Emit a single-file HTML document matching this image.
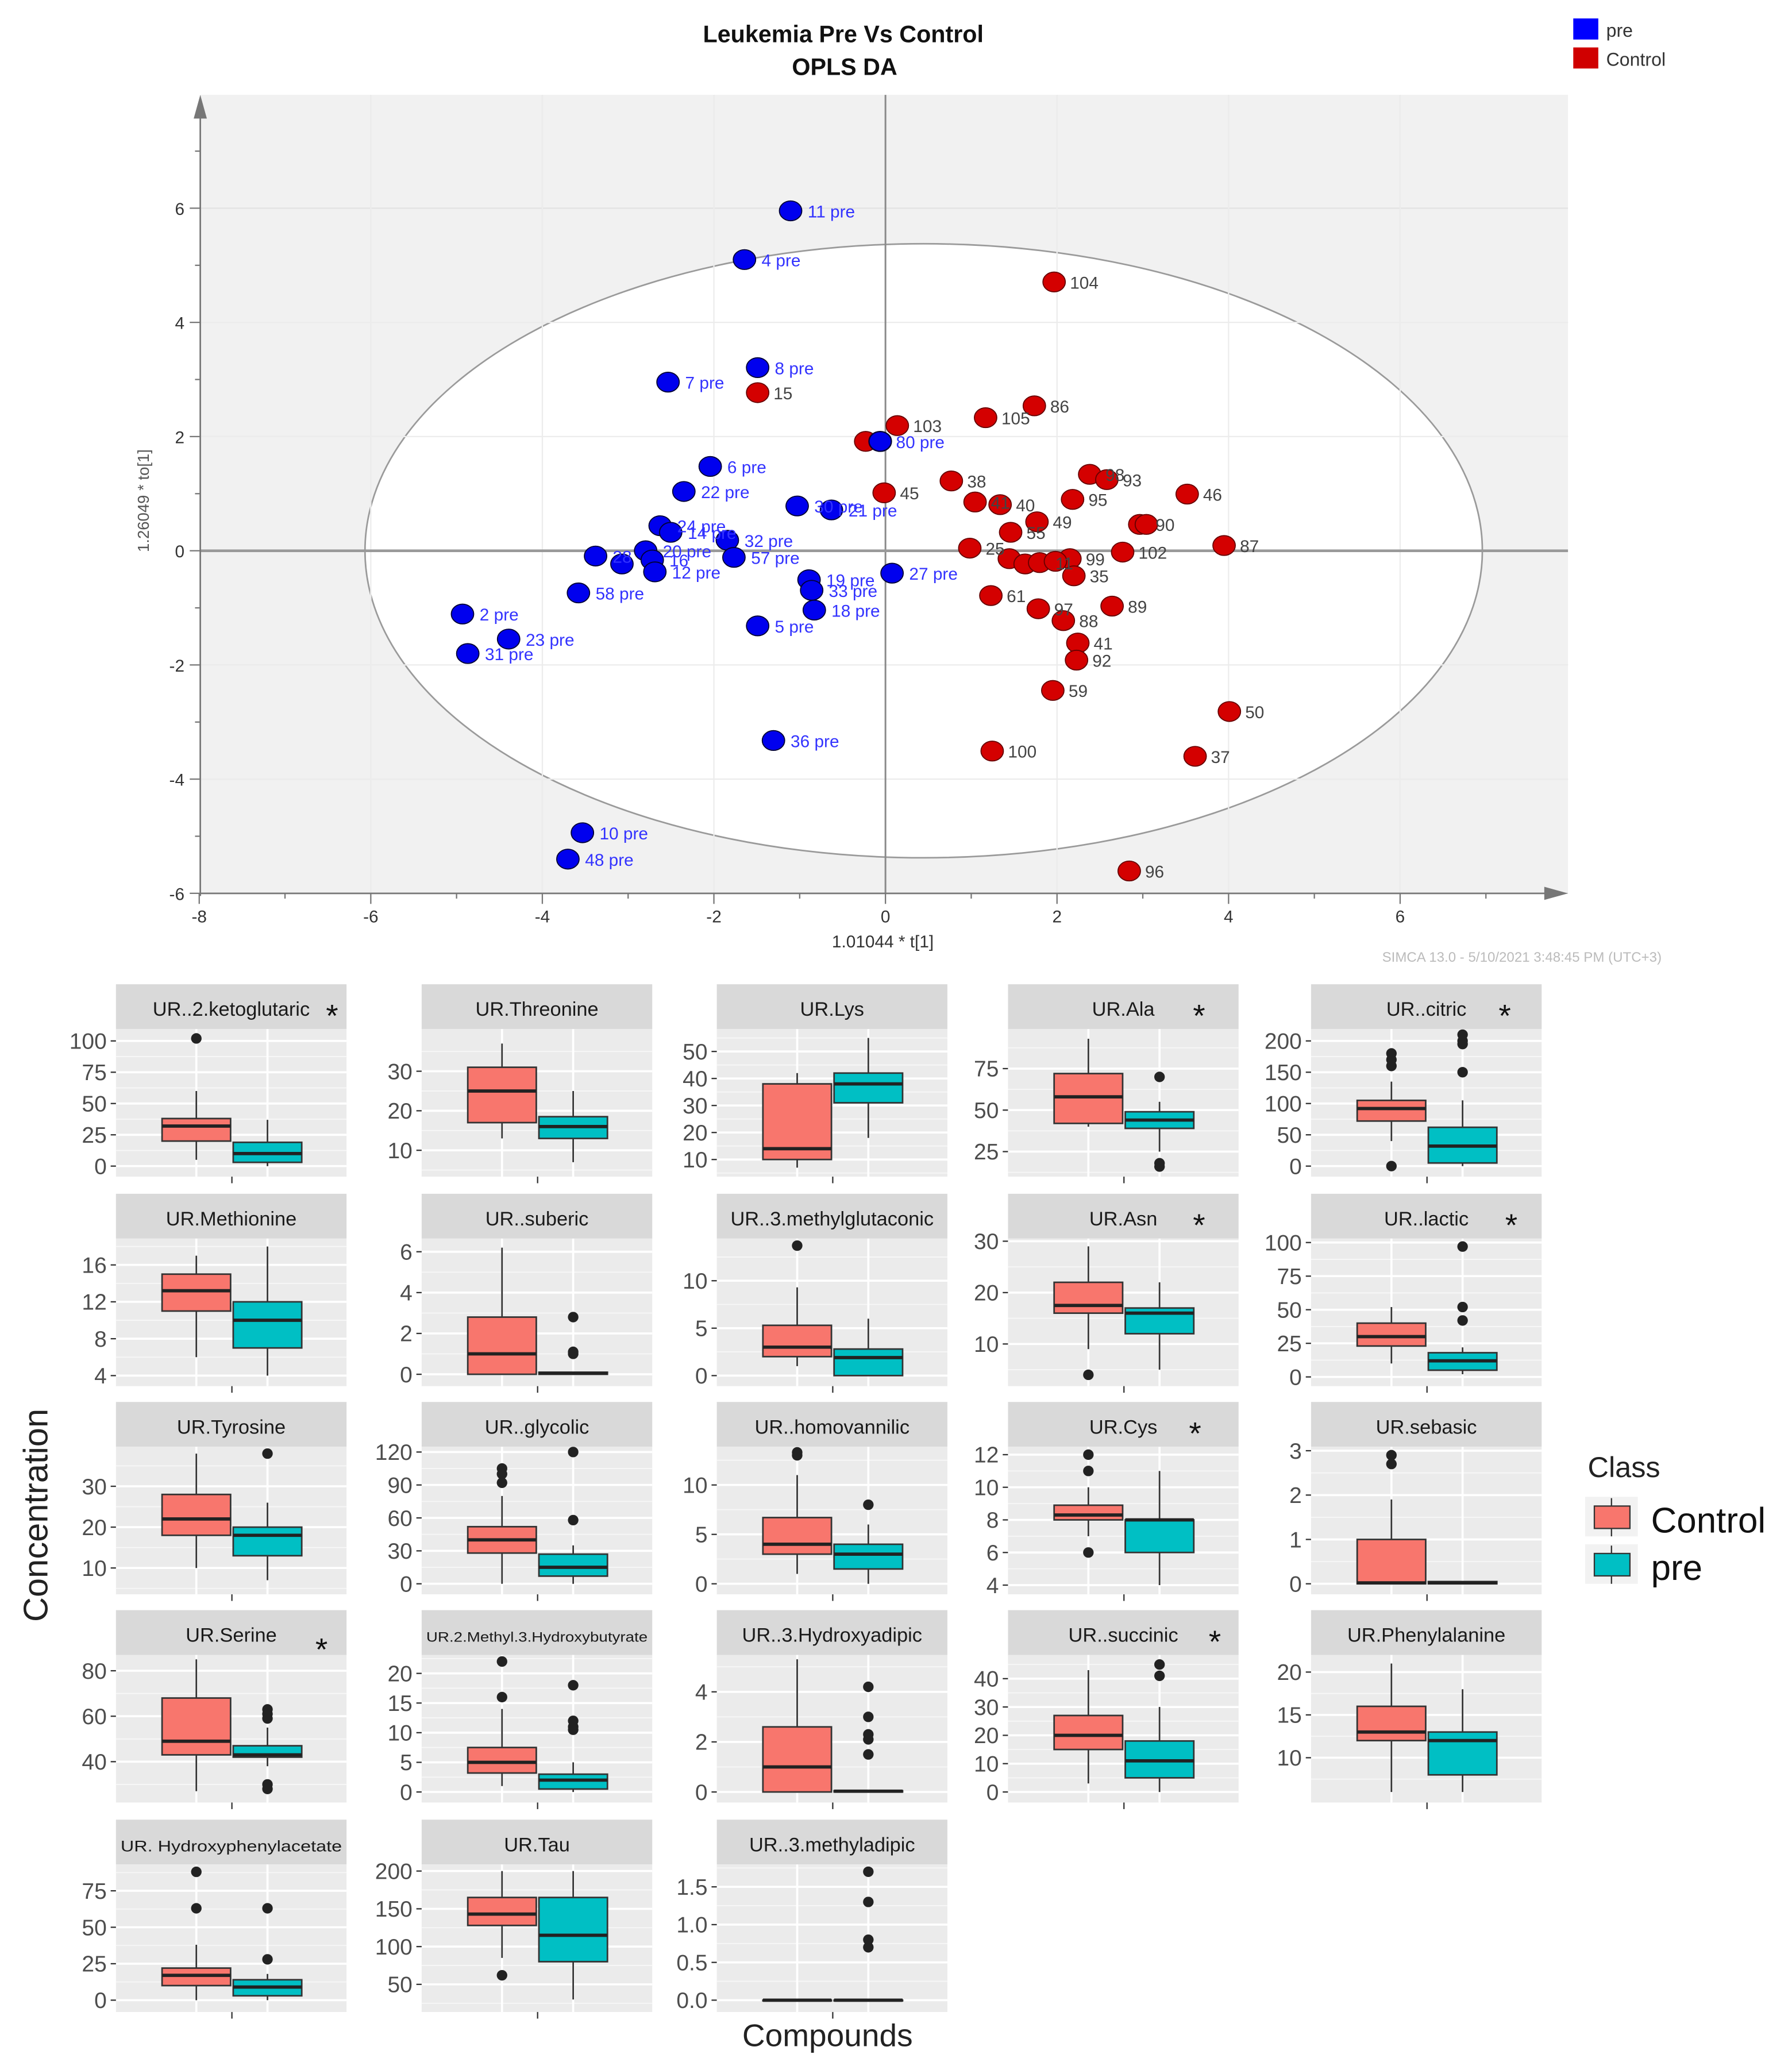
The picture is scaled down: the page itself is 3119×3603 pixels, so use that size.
<!DOCTYPE html>
<html><head><meta charset="utf-8"><style>
html,body{margin:0;padding:0;background:#fff}
svg{display:block}
text{font-family:"Liberation Sans",sans-serif}
</style></head><body>
<svg id="s" width="3119" height="3603" viewBox="0 0 1360 1571" preserveAspectRatio="none" xmlns="http://www.w3.org/2000/svg">
<rect width="1360" height="1571" fill="#fff"/>
<g id="sc"></g>
<g id="bx"></g>
</svg>
<script>
var NS="http://www.w3.org/2000/svg";
function el(p,t,a,txt){var e=document.createElementNS(NS,t);for(var k in a){if(a[k]!==null&&a[k]!==undefined)e.setAttribute(k,a[k]);}if(txt!==undefined)e.textContent=txt;p.appendChild(e);return e;}
var sc=document.getElementById('sc');
el(sc,'rect',{x:152,y:72,width:1038,height:606,fill:'#f1f1f1'});
function X(v){return 672+v*65.1;} function Y(v){return 418-v*43.33;}
[-6,-4,-2,2,4,6].forEach(function(v){el(sc,'line',{x1:X(v),x2:X(v),y1:72,y2:678,stroke:'#e2e2e2','stroke-width':1});});
[4,2,-2,-4,6,-6].forEach(function(v){el(sc,'line',{x1:152,x2:1190,y1:Y(v),y2:Y(v),stroke:'#e2e2e2','stroke-width':1});});
el(sc,'ellipse',{cx:701,cy:418,rx:424,ry:233,fill:'#fff',stroke:'#9a9a9a','stroke-width':1.2});
[-6,-4,-2,2,4,6].forEach(function(v){el(sc,'line',{x1:X(v),x2:X(v),y1:72,y2:678,stroke:'#ececec','stroke-width':1});});
[4,2,-2,-4].forEach(function(v){el(sc,'line',{x1:152,x2:1190,y1:Y(v),y2:Y(v),stroke:'#ececec','stroke-width':1});});
el(sc,'line',{x1:672,x2:672,y1:72,y2:678,stroke:'#8a8a8a','stroke-width':1.3});
el(sc,'line',{x1:152,x2:1190,y1:418,y2:418,stroke:'#999','stroke-width':2});
el(sc,'line',{x1:152,x2:152,y1:680,y2:78,stroke:'#777','stroke-width':1.2});
el(sc,'polygon',{points:'147,90 152,72 157,90',fill:'#777'});
el(sc,'line',{x1:152,x2:1180,y1:678,y2:678,stroke:'#777','stroke-width':1.2});
el(sc,'polygon',{points:'1172,673 1190,678 1172,683',fill:'#777'});
for(var v=-8;v<=7;v++){el(sc,'line',{x1:X(v),x2:X(v),y1:678,y2:v%2==0?686:682,stroke:'#777'});}
for(var v=-6;v<=7;v++){el(sc,'line',{x1:152,x2:v%2==0?144:148,y1:Y(v),y2:Y(v),stroke:'#777'});}
[-8,-6,-4,-2,0,2,4,6].forEach(function(v){el(sc,'text',{x:X(v),y:700,'font-size':13,'text-anchor':'middle',fill:'#333'},v);});
[6,4,2,0,-2,-4,-6].forEach(function(v){el(sc,'text',{x:140,y:Y(v)+5,'font-size':13,'text-anchor':'end',fill:'#333'},v);});
el(sc,'text',{x:640,y:32,'font-size':18,'font-weight':'bold','text-anchor':'middle',fill:'#111'},'Leukemia Pre Vs Control');
el(sc,'text',{x:641,y:57,'font-size':18,'font-weight':'bold','text-anchor':'middle',fill:'#111'},'OPLS DA');
el(sc,'rect',{x:1194,y:14,width:19,height:16,fill:'#0000ff'});
el(sc,'text',{x:1219,y:28,'font-size':14,fill:'#333'},'pre');
el(sc,'rect',{x:1194,y:36,width:19,height:16,fill:'#d00000'});
el(sc,'text',{x:1219,y:50,'font-size':14,fill:'#333'},'Control');
el(sc,'text',{x:670,y:719,'font-size':13,'text-anchor':'middle',fill:'#333'},'1.01044 * t[1]');
el(sc,'text',{x:0,y:0,'font-size':12,'text-anchor':'middle',fill:'#555',transform:'translate(113,380) rotate(-90)'},'1.26049 * to[1]');
el(sc,'text',{x:1155,y:730,'font-size':10.5,'text-anchor':'middle',fill:'#bbb'},'SIMCA 13.0 - 5/10/2021 3:48:45 PM (UTC+3)');
var blue=[[600,160,'11 pre'],[565,197,'4 pre'],[575,279,'8 pre'],[507,290,'7 pre'],[539,354,'6 pre'],[519,373,'22 pre'],[605,384,'30 pre'],[631,387,'21 pre'],[501,399,'24 pre'],[509,404,'14 pre'],[552,410,'32 pre'],[557,423,'57 pre'],[452,422,'28'],[472,428,''],[490,418,'20 pre'],[495,425,'16'],[497,434,'12 pre'],[614,440,'19 pre'],[616,448,'33 pre'],[677,435,'27 pre'],[618,463,'18 pre'],[439,450,'58 pre'],[351,466,'2 pre'],[575,475,'5 pre'],[386,485,'23 pre'],[355,496,'31 pre'],[587,562,'36 pre'],[442,632,'10 pre'],[431,652,'48 pre']];
var red=[[800,214,'104'],[575,298,'15'],[785,308,'86'],[681,323,'103'],[748,317,'105'],[657,335,''],[722,365,'38'],[827,360,'98'],[840,364,'93'],[671,374,'45'],[901,375,'46'],[814,379,'95'],[740,381,'41'],[759,383,'40'],[787,396,'49'],[767,404,'55'],[865,398,'90'],[870,398,''],[929,414,'87'],[736,416,'25'],[852,419,'102'],[812,424,'99'],[766,424,''],[778,428,''],[789,427,'11'],[801,426,''],[815,437,'35'],[752,452,'61'],[788,462,'97'],[844,460,'89'],[807,471,'88'],[818,488,'41'],[817,501,'92'],[799,524,'59'],[933,540,'50'],[753,570,'100'],[907,574,'37'],[857,661,'96']];
red.forEach(function(p){el(sc,'ellipse',{cx:p[0],cy:p[1],rx:8.5,ry:7.5,fill:'#d40000',stroke:'#600','stroke-width':0.8});});
red.forEach(function(p){if(p[2])el(sc,'text',{x:p[0]+12,y:p[1]+5,'font-size':13,fill:'#444'},p[2]);});
el(sc,'ellipse',{cx:668,cy:335,rx:8.5,ry:7.5,fill:'#0000ee',stroke:'#003'});
el(sc,'text',{x:680,y:340,'font-size':13,fill:'#3333ff'},'80 pre');
blue.forEach(function(p){el(sc,'ellipse',{cx:p[0],cy:p[1],rx:8.5,ry:7.5,fill:'#0000ee',stroke:'#003','stroke-width':0.8});});
blue.forEach(function(p){if(p[2])el(sc,'text',{x:p[0]+13,y:p[1]+5,'font-size':13,fill:'#3333ff'},p[2]);});

var bx=document.getElementById('bx');
var colL=[88,320,544,765,995], rowT=[747,906,1064,1222,1381];
var W=175;
var P=[
[0,0,'UR..2.ketoglutaric',[100,790,0,885],[100,75,50,25,0],[5,20,32,38,60,[102]],[0,3,10,19,37,[]],252,15],
[0,1,'UR.Threonine',[30,813,10,873],[30,20,10],[13,17,25,31,37,[]],[7,13,16,18.5,25,[]],0,15],
[0,2,'UR.Lys',[50,798,10,880],[50,40,30,20,10],[7,10,14,38,42,[]],[18,31,38,42,55,[]],0,15],
[0,3,'UR.Ala',[75,811,25,874],[75,50,25],[40,42,58,72,93,[]],[25,39,44,49,55,[70,18,16]],910,15],
[0,4,'UR..citric',[200,790,0,885],[200,150,100,50,0],[40,72,92,105,135,[180,170,160,0]],[0,5,32,62,105,[210,200,195,150]],1142,15],
[1,0,'UR.Methionine',[16,960,4,1044],[16,12,8,4],[6,11,13.2,15,17,[]],[4,7,10,12,18,[]],0,15],
[1,1,'UR..suberic',[6,950,0,1043],[6,4,2,0],[0,0,1,2.8,6.2,[]],[0,0,0.05,0.1,0.1,[2.8,1.1,1.0]],0,15],
[1,2,'UR..3.methylglutaconic',[10,972,0,1044],[10,5,0],[1,2,3,5.3,9.3,[13.7]],[0,0,1.9,2.8,6,[]],0,15],
[1,3,'UR.Asn',[30,942,10,1020],[30,20,10],[9,16,17.5,22,29,[4]],[5,12,16,17,22,[]],910,15],
[1,4,'UR..lactic',[100,943,0,1045],[100,75,50,25,0],[10,23,30,40,52,[]],[2,5,12,18,22,[97,52,42]],1147,15],
[2,0,'UR.Tyrosine',[30,1128,10,1190],[30,20,10],[10,18,22,28,38,[]],[7,13,18,20,26,[38]],0,15],
[2,1,'UR..glycolic',[120,1102,0,1202],[120,90,60,30,0],[0,28,40,52,80,[105,100,92]],[0,7,15,27,35,[120,58]],0,15],
[2,2,'UR..homovannilic',[10,1127,0,1202],[10,5,0],[1,3,4,6.7,11,[13,13.3]],[0,1.5,3,4,6,[8]],0,15],
[2,3,'UR.Cys',[12,1104,4,1203],[12,10,8,6,4],[7,8,8.3,8.9,10,[12,11,6]],[4,6,8,8,11,[]],907,15],
[2,4,'UR.sebasic',[3,1101,0,1202],[3,2,1,0],[0,0,0.02,1,1.9,[2.9,2.7]],[0,0,0.02,0.05,0.05,[]],0,15],
[3,0,'UR.Serine',[80,1268,40,1337],[80,60,40],[27,43,49,68,85,[]],[38,42,43,47,55,[63,61,59,30,28]],244,15],
[3,1,'UR.2.Methyl.3.Hydroxybutyrate',[20,1270,0,1360],[20,15,10,5,0],[1,3.2,5,7.5,14,[22,16]],[0,0.5,2,3,5,[18,12,11,10.5]],0,10.5],
[3,2,'UR..3.Hydroxyadipic',[4,1284,0,1360],[4,2,0],[0,0,1,2.6,5.3,[]],[0,0,0.03,0.05,0.05,[4.2,3,2.3,2.1,1.5]],0,15],
[3,3,'UR..succinic',[40,1274,0,1360],[40,30,20,10,0],[3,15,20,27,43,[]],[0,5,11,18,30,[45,41]],922,15],
[3,4,'UR.Phenylalanine',[20,1269,10,1334],[20,15,10],[6,12,13,16,21,[]],[6,8,12,13,18,[]],0,15],
[4,0,'UR. Hydroxyphenylacetate',[75,1435,0,1518],[75,50,25,0],[0,10,17,22,38,[88,63]],[0,3,9,14,18,[63,28]],0,11.5],
[4,1,'UR.Tau',[200,1420,50,1506],[200,150,100,50],[85,128,143,165,200,[62]],[30,80,115,165,200,[]],0,15],
[4,2,'UR..3.methyladipic',[1.5,1432,0,1518],[1.5,1.0,0.5,0.0],[0,0,0,0,0,[]],[0,0,0,0,0,[1.7,1.3,0.8,0.7]],0,15]
];
P.forEach(function(p){
  var r=p[0],c=p[1],L=colL[c],T=rowT[r];
  var s2=p[3]; var m=(s2[3]-s2[1])/(s2[2]-s2[0]);
  function yv(v){return s2[1]+(v-s2[0])*m;}
  var top=T+34,bot=T+146;
  el(bx,'rect',{x:L,y:T,width:W,height:34,fill:'#d9d9d9'});
  el(bx,'rect',{x:L,y:top,width:W,height:bot-top,fill:'#ebebeb'});
  var ticks=p[4];
  for(var i=0;i<ticks.length-1;i++){var ym=(yv(ticks[i])+yv(ticks[i+1]))/2;el(bx,'line',{x1:L,x2:L+W,y1:ym,y2:ym,stroke:'#f7f7f7','stroke-width':0.8});}
  var st=ticks[0]-ticks[1];
  [ticks[0]+st/2, ticks[ticks.length-1]-st/2].forEach(function(v){var yy=yv(v);if(yy>top&&yy<bot)el(bx,'line',{x1:L,x2:L+W,y1:yy,y2:yy,stroke:'#f7f7f7','stroke-width':0.8});});
  var dec=(r==4&&c==2);
  ticks.forEach(function(v){var yy=yv(v);
    el(bx,'line',{x1:L,x2:L+W,y1:yy,y2:yy,stroke:'#fff','stroke-width':1.6});
    el(bx,'line',{x1:L-4,x2:L,y1:yy,y2:yy,stroke:'#333','stroke-width':1});
    el(bx,'text',{x:L-7,y:yy+6,'font-size':17,'text-anchor':'end',fill:'#4d4d4d'},dec?v.toFixed(1):String(v));
  });
  el(bx,'line',{x1:L+61,x2:L+61,y1:top,y2:bot,stroke:'#fff','stroke-width':1.6});
  el(bx,'line',{x1:L+115,x2:L+115,y1:top,y2:bot,stroke:'#fff','stroke-width':1.6});
  el(bx,'line',{x1:L+88,x2:L+88,y1:bot,y2:bot+5,stroke:'#333'});
  var ta={x:L+W/2,y:T+24,'font-size':p[8],'text-anchor':'middle',fill:'#1a1a1a'};
  if(p[8]<15){ta.textLength=168;ta.lengthAdjust='spacingAndGlyphs';}
  el(bx,'text',ta,p[2]);
  if(p[7])el(bx,'text',{x:p[7],y:T+(r==3&&c==0?38:32),'font-size':24,'text-anchor':'middle',fill:'#111'},'*');
  [[p[5],L+61,'#f8766d'],[p[6],L+115,'#00bfc4']].forEach(function(b){
    var d=b[0],cx=b[1],w=26;
    el(bx,'line',{x1:cx,x2:cx,y1:yv(d[0]),y2:yv(d[4]),stroke:'#333','stroke-width':1.2});
    var y1=yv(d[3]),y2=yv(d[1]);
    el(bx,'rect',{x:cx-w,y:y1,width:2*w,height:Math.max(y2-y1,0.5),fill:b[2],stroke:'#333','stroke-width':1.2});
    el(bx,'line',{x1:cx-w,x2:cx+w,y1:yv(d[2]),y2:yv(d[2]),stroke:'#222','stroke-width':2.5});
    d[5].forEach(function(o){el(bx,'circle',{cx:cx,cy:yv(o),r:4,fill:'#222'});});
  });
});
el(bx,'text',{x:0,y:0,'font-size':26,'text-anchor':'middle',fill:'#222',transform:'translate(36,1150) rotate(-90)'},'Concentration');
el(bx,'text',{x:628,y:1553,'font-size':24,'text-anchor':'middle',fill:'#222'},'Compounds');
el(bx,'text',{x:1205,y:1121,'font-size':22,fill:'#222'},'Class');
el(bx,'rect',{x:1203,y:1136,width:40,height:30,fill:'#f2f2f2'});
el(bx,'line',{x1:1223,x2:1223,y1:1137,y2:1166,stroke:'#333'});
el(bx,'rect',{x:1210,y:1143,width:27,height:17,fill:'#f8766d',stroke:'#333'});
el(bx,'rect',{x:1203,y:1172,width:40,height:30,fill:'#f2f2f2'});
el(bx,'line',{x1:1223,x2:1223,y1:1173,y2:1202,stroke:'#333'});
el(bx,'rect',{x:1210,y:1179,width:27,height:17,fill:'#00bfc4',stroke:'#333'});
el(bx,'text',{x:1253,y:1163,'font-size':27,fill:'#111'},'Control');
el(bx,'text',{x:1253,y:1199,'font-size':27,fill:'#111'},'pre');
</script>
</body></html>
